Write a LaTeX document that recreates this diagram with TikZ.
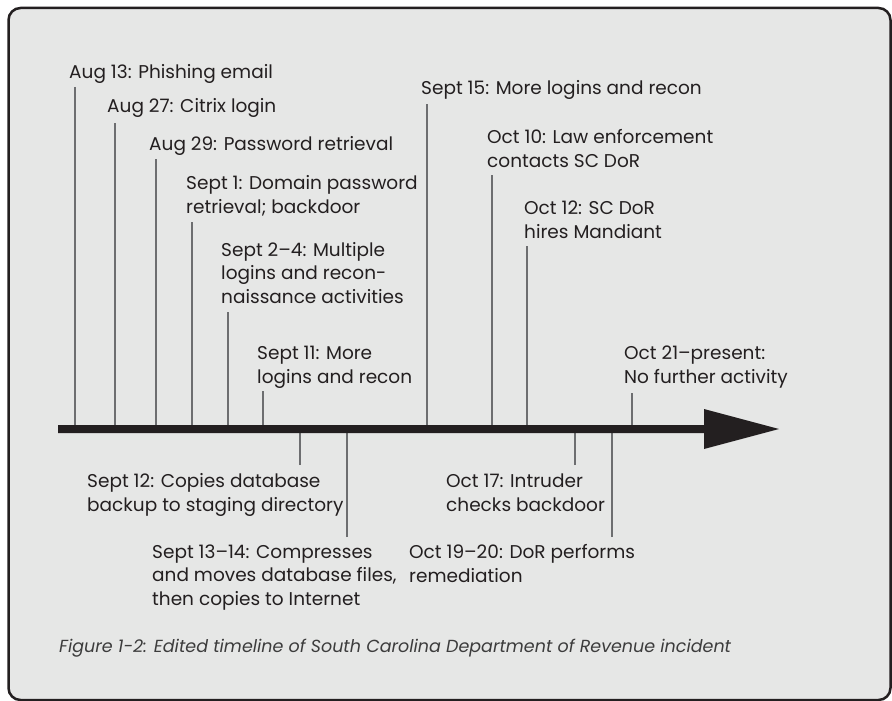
\documentclass[tikz,border=0pt]{standalone}
\usepackage{fontspec}
\setmainfont{Poppins}
\definecolor{bg}{HTML}{E6E7E6}
\definecolor{ink}{HTML}{231F20}
\definecolor{tickc}{HTML}{6D6E70}
\definecolor{capc}{HTML}{3C3C3C}
\tikzset{
  lbl/.style={anchor=base west, inner sep=0pt, align=left, text=ink,
    font=\fontsize{18.5}{23.5}\selectfont},
  tickline/.style={draw=tickc, line width=2pt},
  caption/.style={anchor=base west, inner sep=0pt, text=capc,
    font=\fontsize{17.5}{20}\selectfont\itshape},
}
\begin{document}
\begin{tikzpicture}[x=1pt,y=-1pt]
\useasboundingbox (0,0) rectangle (892,701);
\fill[white] (0,0) rectangle (892,701);
\draw[line width=2.5pt, fill=bg, draw=ink, rounded corners=12pt] (8.5,8) rectangle (890.5,700);

% labels above (anchor = baseline of last line)
\node[lbl] (l1) at (69,78) {Aug 13: Phishing email};
\node[lbl] (l2) at (107,113) {Aug 27: Citrix login};
\node[lbl] (l3) at (149,150) {Aug 29: Password retrieval};
\node[lbl] (l4) at (186,213) {Sept 1: Domain password\\retrieval; backdoor};
\node[lbl] (l5) at (221,303) {Sept 2–4: Multiple\\logins and recon-\\naissance activities};
\node[lbl] (l6) at (257,383) {Sept 11: More\\logins and recon};
\node[lbl] (l7) at (421,95) {Sept 15: More logins and recon};
\node[lbl] (l8) at (487,167) {Oct 10: Law enforcement\\contacts SC DoR};
\node[lbl] (l9) at (524,238) {Oct 12: SC DoR\\hires Mandiant};
\node[lbl] (l10) at (624,383) {Oct 21–present:\\No further activity};
% labels below
\node[lbl] (b1) at (87,511) {Sept 12: Copies database\\backup to staging directory};
\node[lbl] (b2) at (152,605) {Sept 13–14: Compresses\\and moves database files,\\then copies to Internet};
\node[lbl] (b3) at (446,511) {Oct 17: Intruder\\checks backdoor};
\node[lbl] (b4) at (409,582) {Oct 19–20: DoR performs\\remediation};

\node[caption] (cap) at (59,652) {Figure 1-2: Edited timeline of South Carolina Department of Revenue incident};

% tick ends
\coordinate (t1) at (75,87);
\coordinate (t2) at (115,123);
\coordinate (t3) at (156,159);
\coordinate (t4) at (192,222);
\coordinate (t5) at (228,312);
\coordinate (t6) at (263,391);
\coordinate (t7) at (427,104);
\coordinate (t8) at (492,175);
\coordinate (t9) at (527,246);
\coordinate (t10) at (632,393);
\coordinate (u1) at (300,465);
\coordinate (u2) at (347,537);
\coordinate (u3) at (575,465);
\coordinate (u4) at (612,537);

\coordinate (start) at (58,429);
\coordinate (headbase) at (704,429);
\coordinate (tip) at (779,429);

\foreach \t in {t1,t2,t3,t4,t5,t6,t7,t8,t9,t10,u1,u2,u3,u4}
  \draw[tickline] (\t) -- (\t |- start);

% timeline arrow
\fill[ink] ([yshift=-4pt]start) -- ([yshift=-4pt]headbase) -- ([yshift=-20pt]headbase)
  -- (tip) -- ([yshift=20pt]headbase) -- ([yshift=4pt]headbase) -- ([yshift=4pt]start) -- cycle;
\end{tikzpicture}
\end{document}
